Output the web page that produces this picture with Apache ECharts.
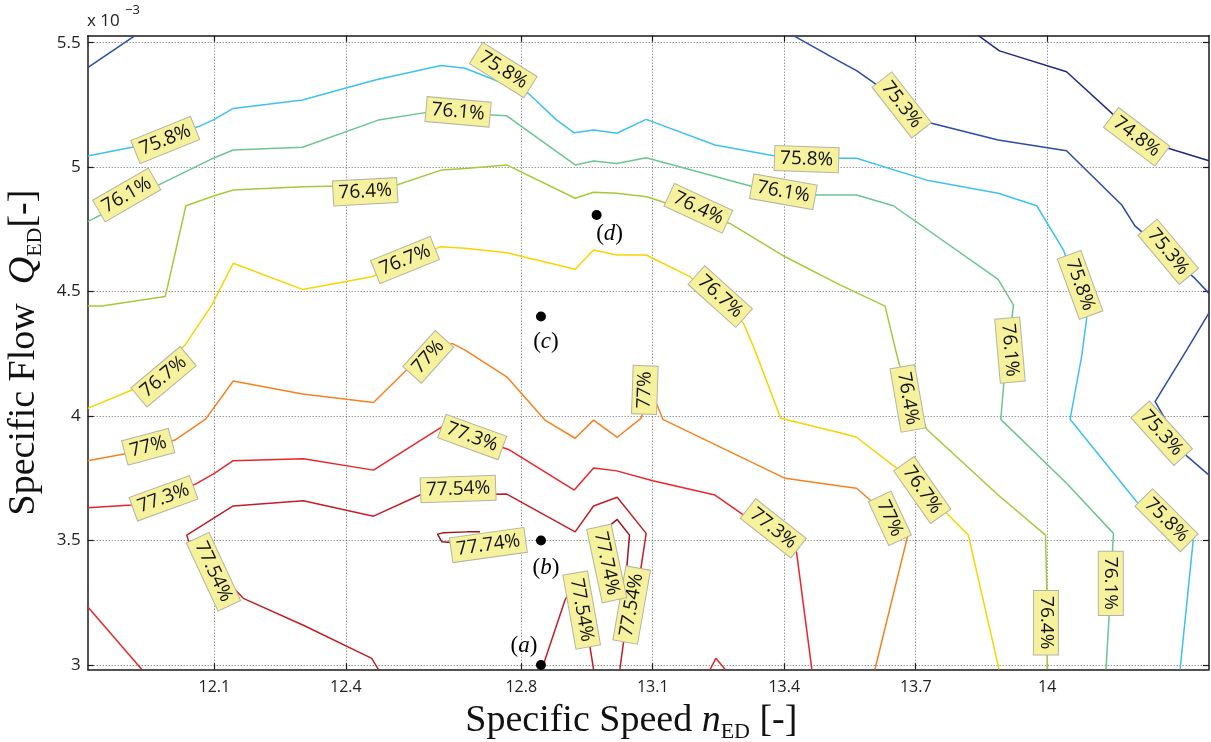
<!DOCTYPE html>
<html><head><meta charset="utf-8">
<script src="https://cdn.jsdelivr.net/npm/echarts@6/dist/echarts.min.js"></script>
<style>html,body{margin:0;padding:0;background:#fff}#c{width:1211px;height:742px}</style>
</head><body><div id="c"></div>
<script>
// ---- axis ticks ----
const xTicks = [12.1, 12.4, 12.8, 13.1, 13.4, 13.7, 14];
const yTicks = [3, 3.5, 4, 4.5, 5, 5.5];
const xRange = [11.811, 14.369];
const yRange = [2.983, 5.528];

// ---- contour lines [nED, QED*1e3] ----
const c748 = [[13.843,5.528],[13.891,5.467],[14.044,5.383],[14.177,5.169],[14.276,5.076],[14.369,5.026]];
const c753a = [[11.811,5.400],[11.919,5.528]];
const c753b = [[13.421,5.528],[13.527,5.424],[13.565,5.388],[13.736,5.176],[13.888,5.109],[14.044,5.066],[14.170,4.848],[14.200,4.764],[14.337,4.553],[14.369,4.493]];
const c753c = [[14.369,4.415],[14.318,4.265],[14.246,4.058],[14.318,3.840],[14.369,3.763]];
const c758 = [[11.811,5.045],[11.912,5.080],[12.064,5.163],[12.100,5.192],[12.143,5.236],[12.301,5.270],[12.398,5.317],[12.467,5.350],[12.617,5.408],[12.672,5.397],[12.816,5.297],[12.881,5.189],[12.921,5.138],[12.965,5.149],[13.018,5.136],[13.085,5.192],[13.242,5.089],[13.379,5.045],[13.527,5.036],[13.565,5.036],[13.729,4.946],[13.888,4.895],[13.976,4.845],[14.037,4.667],[14.090,4.393],[14.079,4.245],[14.052,3.987],[14.204,3.656],[14.333,3.502],[14.303,2.983]];
const c761 = [[11.811,4.781],[11.980,4.935],[12.100,5.038],[12.143,5.069],[12.301,5.080],[12.474,5.189],[12.596,5.223],[12.767,5.206],[12.923,5.009],[12.965,5.025],[13.018,5.015],[13.085,5.038],[13.329,4.921],[13.474,4.888],[13.565,4.888],[13.649,4.845],[13.888,4.549],[13.923,4.446],[13.901,4.132],[13.894,3.987],[14.044,3.730],[14.151,3.529],[14.141,3.194],[14.134,2.983]];
const c764 = [[11.811,4.442],[11.843,4.442],[11.988,4.480],[12.035,4.845],[12.100,4.885],[12.143,4.908],[12.301,4.921],[12.516,4.928],[12.619,4.989],[12.672,4.995],[12.767,5.009],[12.923,4.875],[12.965,4.899],[13.018,4.895],[13.086,4.881],[13.276,4.774],[13.402,4.640],[13.527,4.527],[13.630,4.442],[13.657,4.245],[13.664,4.198],[13.725,3.947],[13.888,3.683],[13.996,3.522],[13.999,3.301],[14.000,2.983]];
const c767 = [[11.811,4.031],[11.912,4.105],[12.033,4.285],[12.094,4.446],[12.143,4.614],[12.301,4.509],[12.459,4.560],[12.615,4.680],[12.672,4.674],[12.767,4.656],[12.923,4.590],[12.965,4.667],[13.018,4.647],[13.085,4.647],[13.185,4.560],[13.307,4.373],[13.333,4.265],[13.392,3.991],[13.527,3.933],[13.565,3.915],[13.657,3.790],[13.771,3.609],[13.820,3.522],[13.890,2.983]];
const c770 = [[11.811,3.821],[11.900,3.850],[12.010,3.904],[12.080,3.988],[12.143,4.141],[12.301,4.089],[12.463,4.055],[12.546,4.198],[12.642,4.292],[12.672,4.265],[12.767,4.158],[12.854,3.984],[12.923,3.911],[12.965,3.984],[13.019,3.915],[13.073,3.991],[13.098,4.097],[13.123,3.987],[13.402,3.750],[13.527,3.719],[13.565,3.710],[13.683,3.529],[13.607,2.983]];
const c773a = [[11.811,3.632],[11.912,3.643],[12.056,3.726],[12.100,3.770],[12.143,3.821],[12.303,3.829],[12.463,3.783],[12.619,3.957],[12.771,3.866],[12.921,3.703],[12.965,3.792],[13.018,3.780],[13.100,3.740],[13.242,3.683],[13.428,3.455],[13.463,2.983]];
const c773b = [[11.811,3.234],[11.934,2.983]];
const c773c = [[13.231,2.983],[13.244,3.027],[13.265,2.983]];
const c7754a = [[12.474,2.983],[12.459,3.027],[12.303,3.160],[12.166,3.268],[12.041,3.498],[12.037,3.522],[12.143,3.639],[12.303,3.660],[12.463,3.598],[12.569,3.683],[12.767,3.687],[12.923,3.535],[12.965,3.639],[13.019,3.674],[13.085,3.529],[13.073,3.388],[13.033,3.087],[13.025,2.983]];
const c7754b = [[12.847,2.983],[12.900,3.261],[12.927,3.349],[12.957,3.072],[12.965,2.983]];
const c7774a = [[12.706,3.490],[12.649,3.491],[12.619,3.495],[12.609,3.526],[12.622,3.531],[12.676,3.535],[12.706,3.535]];
const c7774b = [[12.994,3.422],[13.003,3.562],[13.019,3.585],[13.047,3.522],[13.041,3.395],[13.030,3.281]];

// ---- contour labels [nED, QED*1e3, angle] ----
const lab748 = [[14.204,5.122,-37]];
const lab753 = [[13.668,5.250,-52],[14.276,4.660,-50],[14.261,3.931,-48]];
const lab758 = [[11.988,5.109,22],[12.759,5.390,-32],[13.451,5.032,-2],[14.075,4.527,-70],[14.272,3.582,-45]];
const lab761 = [[11.900,4.888,30],[12.656,5.222,-5],[13.398,4.901,-10],[13.915,4.265,-85],[14.145,3.328,-90]];
const lab764 = [[12.444,4.901,3],[13.204,4.835,-25],[13.682,4.071,-80],[13.997,3.170,-90]];
const lab767 = [[11.984,4.158,40],[12.535,4.627,22],[13.254,4.480,-42],[13.715,3.703,-55]];
const lab770 = [[11.949,3.877,15],[12.588,4.238,48],[13.082,4.105,88],[13.641,3.589,-65]];
const lab773 = [[11.984,3.670,20],[12.688,3.916,-20],[13.375,3.549,-38]];
const lab7754 = [[12.656,3.707,2],[12.098,3.375,-65],[13.052,3.241,80],[12.938,3.221,-80]];
const lab7774 = [[12.725,3.482,8],[12.995,3.408,-78]];

// ---- operating points ----
const ptNames = ['a','b','c','d'];
const ptX = [12.845, 12.845, 12.845, 12.972];
const ptY = [3.0, 3.5, 4.4, 4.808];

// ---- levels ----
const levels = [
  {name:'74.8%', color:'#1f2a7e', lines:[c748], labels:lab748},
  {name:'75.3%', color:'#2c4ba2', lines:[c753a,c753b,c753c], labels:lab753},
  {name:'75.8%', color:'#3fc1ee', lines:[c758], labels:lab758},
  {name:'76.1%', color:'#6dc591', lines:[c761], labels:lab761},
  {name:'76.4%', color:'#a7c83b', lines:[c764], labels:lab764},
  {name:'76.7%', color:'#f6d500', lines:[c767], labels:lab767},
  {name:'77%',   color:'#f4821f', lines:[c770], labels:lab770},
  {name:'77.3%', color:'#e8262b', lines:[c773a,c773b,c773c], labels:lab773},
  {name:'77.54%',color:'#c01f28', lines:[c7754a,c7754b], labels:lab7754},
  {name:'77.74%',color:'#9a161c', lines:[c7774a,c7774b], labels:lab7774}
];

const labelBg = '#f5f19c';
const series = [];
levels.forEach(lv => {
  lv.lines.forEach(d => series.push({
    type:'line', data:d, showSymbol:false, symbol:'none', clip:true,
    lineStyle:{color:lv.color, width:1.5}, z:2, silent:true
  }));
});
levels.forEach(lv => {
  series.push({
    type:'scatter', symbol:'circle', symbolSize:1, itemStyle:{color:labelBg, opacity:1}, z:10, silent:true,
    data: lv.labels.map(l => ({value:[l[0], l[1]], label:{rotate:l[2]}})),
    label:{show:true, position:'inside', formatter: lv.name, color:'#111', opacity:1,
      fontFamily:'Open Sans', fontSize:19, backgroundColor:labelBg,
      borderColor:'#b4b4a4', borderWidth:1, padding:[3,5,2,5]}
  });
});
const ptOffsets = [[-17,-19],[5,27],[5,25],[13,19]];
series.push({
  type:'scatter', symbol:'circle', symbolSize:10, itemStyle:{color:'#000', opacity:1}, z:20, silent:true,
  data: ptNames.map((n,i) => ({value:[ptX[i], ptY[i]], name:n,
     label:{offset:ptOffsets[i]}})),
  label:{show:true, position:'inside', formatter: p => '{p|(}{i|' + p.name + '}{p|)}',
    rich:{p:{fontFamily:'Liberation Serif', fontSize:23, color:'#000'},
          i:{fontFamily:'Liberation Serif', fontSize:23, fontStyle:'italic', color:'#000'}}}
});

const axisLineStyle = {show:true, onZero:false, lineStyle:{color:'#1a1a1a', width:1.5}};
const tickStyle = (vals) => ({show:true, inside:true, length:6, customValues:vals, lineStyle:{color:'#1a1a1a', width:1.2}});
const gridLine = {show:true, lineStyle:{type:[1,2], color:'#6a6a6a', width:1}};
const titleRich = {
  a:{fontFamily:'Liberation Serif', fontSize:38, color:'#111', lineHeight:44},
  i:{fontFamily:'Liberation Serif', fontSize:38, fontStyle:'italic', color:'#111', lineHeight:44},
  s:{fontFamily:'Liberation Serif', fontSize:22, color:'#111', lineHeight:26, verticalAlign:'bottom'}
};

const option = {
  animation:false,
  backgroundColor:'#ffffff',
  grid:{left:87.7, right:2, top:35.7, bottom:72.7, containLabel:false, outerBoundsMode:'none'},
  xAxis:[
    {type:'value', min:xRange[0], max:xRange[1], position:'bottom',
     axisLine:axisLineStyle, axisTick:tickStyle(xTicks),
     axisLabel:{customValues:xTicks, margin:10, color:'#222', fontSize:16, fontFamily:'Open Sans', formatter:v=>String(v)},
     splitLine:gridLine,
     name:'{a|Specific Speed }{i|n}{s|ED}{a| [-]}', nameLocation:'middle', nameGap:30,
     nameTextStyle:{rich:titleRich, padding:[0,34,0,0]}},
    {type:'value', min:xRange[0], max:xRange[1], position:'top',
     axisLine:axisLineStyle, axisTick:tickStyle(xTicks), axisLabel:{show:false}, splitLine:{show:false}}
  ],
  yAxis:[
    {type:'value', min:yRange[0], max:yRange[1], position:'left',
     axisLine:axisLineStyle, axisTick:tickStyle(yTicks),
     axisLabel:{customValues:yTicks, margin:7, color:'#222', fontSize:17, fontFamily:'Open Sans', formatter:v=>String(v)},
     splitLine:gridLine,
     name:'{a|Specific Flow  }{i|Q}{s|ED}{a|[-]}', nameLocation:'middle', nameGap:26,
     nameTextStyle:{rich:titleRich}},
    {type:'value', min:yRange[0], max:yRange[1], position:'right',
     axisLine:axisLineStyle, axisTick:tickStyle(yTicks), axisLabel:{show:false}, splitLine:{show:false}}
  ],
  graphic:[
    {type:'text', left:87, top:13, style:{text:'x 10', font:'17px "Open Sans"', fill:'#222'}},
    {type:'text', left:125, top:4, style:{text:'\u22123', font:'13px "Open Sans"', fill:'#222'}}
  ],
  series: series
};
const chart = echarts.init(document.getElementById('c'));
chart.setOption(option);
</script></body></html>
